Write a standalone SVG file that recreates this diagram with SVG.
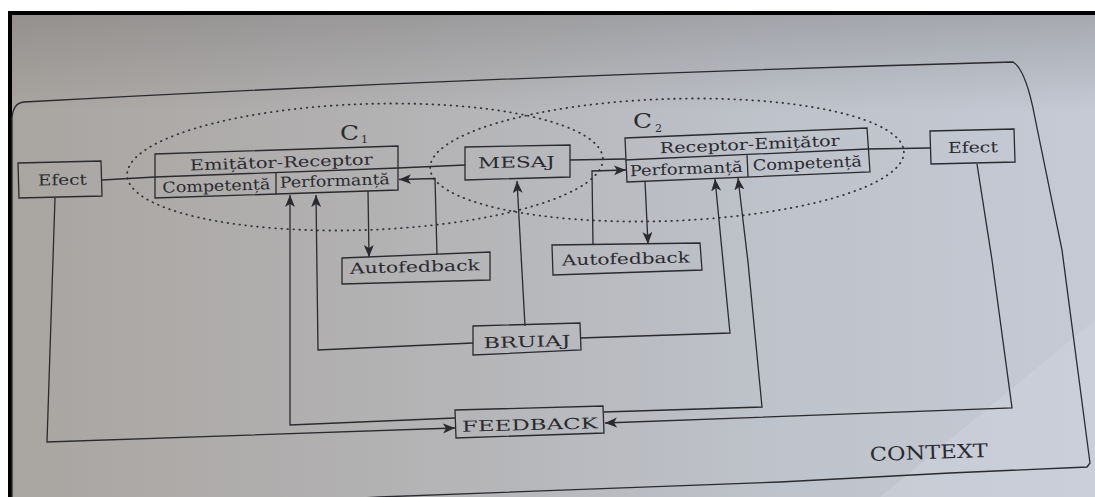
<svg xmlns="http://www.w3.org/2000/svg" width="1095" height="497" viewBox="0 0 1095 497">
<defs>
<linearGradient id="paper" x1="0" y1="0" x2="1" y2="0">
<stop offset="0" stop-color="#a9a5a1"/>
<stop offset="0.35" stop-color="#b3b2b3"/>
<stop offset="0.7" stop-color="#bec2ca"/>
<stop offset="1" stop-color="#c5cad5"/>
</linearGradient>
<linearGradient id="topshade" x1="0" y1="0" x2="0" y2="1">
<stop offset="0" stop-color="#6a6868" stop-opacity="0.35"/>
<stop offset="1" stop-color="#6a6868" stop-opacity="0"/>
</linearGradient>
<marker id="ah" markerUnits="userSpaceOnUse" markerWidth="13" markerHeight="11" refX="12" refY="5" orient="auto">
<path d="M0,0 L12,5 L0,10 L3,5 Z" fill="#2a2a2f"/>
</marker>
<style>
.box{fill:none;stroke:#2a2a2f;stroke-width:1.3}
.ln{fill:none;stroke:#2a2a2f;stroke-width:1.3}
.arr{fill:none;stroke:#2a2a2f;stroke-width:1.3;marker-end:url(#ah)}
.dot{fill:none;stroke:#34343a;stroke-width:1.8;stroke-dasharray:0.6 5.4;stroke-linecap:round}
.t{font-family:"DejaVu Serif","Liberation Serif",serif;font-size:15px;fill:#2a2a30;text-anchor:middle}
.big{font-family:"DejaVu Serif","Liberation Serif",serif;font-size:21px;fill:#2a2a30}
.sub{font-family:"DejaVu Serif","Liberation Serif",serif;font-size:11px;fill:#2a2a30}
</style>
</defs>
<rect x="0" y="0" width="1095" height="497" fill="#ffffff"/>
<rect x="10" y="12" width="1085" height="485" fill="url(#paper)"/>
<rect x="10" y="12" width="1085" height="100" fill="url(#topshade)"/>
<polygon points="880,497 1095,320 1095,497" fill="#d2d7e1" opacity="0.4"/>
<rect x="9" y="11" width="1086" height="4" fill="#000"/>
<rect x="8" y="11" width="4" height="486" fill="#000"/>

<g id="context">
<path class="ln" d="M 12,497 L 12,118 Q 13,103 24,102 Q 500,76 1013,62 Q 1026,70 1035,118 L 1062,250 L 1090,463 L 1087,467 L 950,473 L 780,482 L 380,497 L 340,499"/>
<text class="t" x="929" y="459" textLength="118" lengthAdjust="spacingAndGlyphs" style="font-size:19px" transform="rotate(-2 929 459)">CONTEXT</text>
</g>

<g id="c1">
<ellipse class="dot" cx="365" cy="167" rx="238" ry="63" transform="rotate(-2 365 167)"/>
<text class="big" x="340" y="140" textLength="19" lengthAdjust="spacingAndGlyphs">C</text>
<text class="sub" x="361" y="143">1</text>
</g>
<g id="c2">
<ellipse class="dot" cx="667" cy="160" rx="237" ry="61" transform="rotate(-2 667 160)"/>
<text class="big" x="633" y="128" textLength="19" lengthAdjust="spacingAndGlyphs">C</text>
<text class="sub" x="655" y="132">2</text>
</g>

<g id="connectors">
<path class="ln" d="M102,180 L155,177"/>
<path class="ln" d="M398,168 L465,165"/>
<path class="ln" d="M570,160 L625,159"/>
<path class="ln" d="M868,149 L930,148"/>
<path class="arr" d="M368,191 L369,257"/>
<path class="arr" d="M437,255 L435,178.5 L399,179.5"/>
<path class="arr" d="M525,326 L517,181"/>
<path class="arr" d="M473,343 L318,350 L316,195"/>
<path class="arr" d="M580,338 L730,333 L715,179"/>
<path class="arr" d="M604,412 L762,407 L748,262 L738,178"/>
<path class="arr" d="M455,418 L290,425 L290,195"/>
<path class="arr" d="M55,198 L47,442 L455,428"/>
<path class="arr" d="M977,164 L992,260 L1012,408 L605,423"/>
<path class="arr" d="M645,181 L648,244"/>
<path class="arr" d="M593,245 L592,171 L626,170"/>
</g>

<g id="efect-left">
<polygon class="box" points="18,163 101,161 102,196 19,198"/>
<text class="t" x="62.5" y="185" textLength="49" lengthAdjust="spacingAndGlyphs" transform="rotate(-1 62.5 185)">Efect</text>
</g>

<g id="emitator-receptor">
<polygon class="box" points="155,154 398,146 398,190 155,198"/>
<path class="ln" d="M155,177 L398,168 M276,172.5 L276,194"/>
<text class="t" x="281.5" y="167.5" textLength="183" lengthAdjust="spacingAndGlyphs" transform="rotate(-1.9 281.5 167.5)">Emițător-Receptor</text>
<text class="t" x="216.5" y="191" textLength="108" lengthAdjust="spacingAndGlyphs" transform="rotate(-1.9 216.5 191)">Competență</text>
<text class="t" x="335" y="186" textLength="110" lengthAdjust="spacingAndGlyphs" transform="rotate(-1.9 335 186)">Performanță</text>
</g>

<g id="mesaj">
<polygon class="box" points="465,147 570,145 570,177 465,180"/>
<text class="t" x="516.5" y="167.5" textLength="77" lengthAdjust="spacingAndGlyphs" transform="rotate(-1 516.5 167.5)">MESAJ</text>
</g>

<g id="receptor-emitator">
<polygon class="box" points="625,138 867,128 870,172 627,182"/>
<path class="ln" d="M625,160 L868,149 M747,154.5 L748,177"/>
<text class="t" x="750" y="149.5" textLength="180" lengthAdjust="spacingAndGlyphs" transform="rotate(-2.4 750 149.5)">Receptor-Emițător</text>
<text class="t" x="686.5" y="174" textLength="113" lengthAdjust="spacingAndGlyphs" transform="rotate(-2.2 686.5 174)">Performanță</text>
<text class="t" x="807.5" y="168.5" textLength="109" lengthAdjust="spacingAndGlyphs" transform="rotate(-2.2 807.5 168.5)">Competență</text>
</g>

<g id="efect-right">
<polygon class="box" points="930,131 1014,129 1015,162 931,164"/>
<text class="t" x="973" y="152.5" textLength="50" lengthAdjust="spacingAndGlyphs" transform="rotate(-1 973 152.5)">Efect</text>
</g>

<g id="autofedback-1">
<polygon class="box" points="342,258 490,252 490,280 342,284"/>
<text class="t" x="415" y="272" textLength="130" lengthAdjust="spacingAndGlyphs" transform="rotate(-1.5 415 272)">Autofedback</text>
</g>

<g id="autofedback-2">
<polygon class="box" points="552,245 700,243 702,270 553,275"/>
<text class="t" x="626" y="264" textLength="128" lengthAdjust="spacingAndGlyphs" transform="rotate(-1.3 626 264)">Autofedback</text>
</g>

<g id="bruiaj">
<polygon class="box" points="473,326 580,323 581,350 473,355"/>
<text class="t" x="527" y="347" textLength="87" lengthAdjust="spacingAndGlyphs" transform="rotate(-1.5 527 347)">BRUIAJ</text>
</g>

<g id="feedback">
<polygon class="box" points="455,410 603,406 604,433 456,438"/>
<text class="t" x="530" y="430" textLength="136" lengthAdjust="spacingAndGlyphs" transform="rotate(-1.5 530 430)">FEEDBACK</text>
</g>
</svg>
